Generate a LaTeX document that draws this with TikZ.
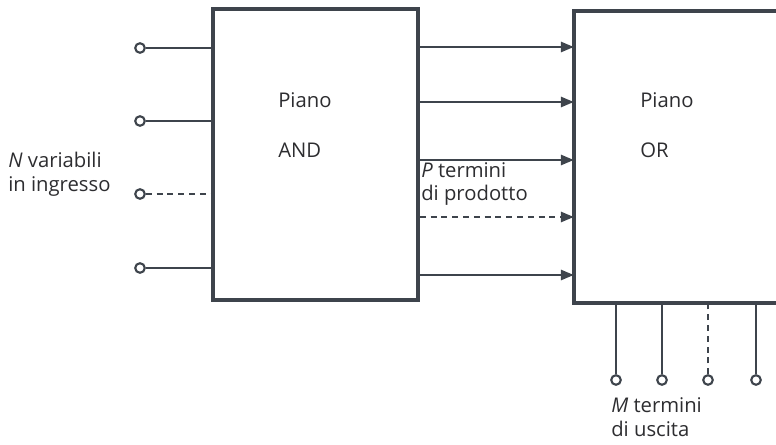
\documentclass[tikz,border=0pt]{standalone}
\usepackage{fontspec}
\setmainfont{Open Sans}
\usetikzlibrary{positioning,calc,arrows.meta}
\definecolor{plaline}{RGB}{62,68,76}
\definecolor{platext}{RGB}{45,45,48}

\begin{document}
\begin{tikzpicture}[
    x=0.025cm, y=-0.025cm,
    every node/.style={font=\fontsize{14.4}{17}\selectfont, text=platext},
    plane/.style={rectangle, draw=plaline, line width=2.6pt, fill=white, minimum width=5.125cm, minimum height=7.275cm, inner sep=0pt},
    pin/.style={circle, draw=plaline, line width=1.5pt, fill=white, minimum size=0.24cm, inner sep=0pt},
    wire/.style={draw=plaline, line width=1.05pt},
    arrow/.style={-{Triangle[length=0.32cm, width=0.26cm]}, plaline, line width=1.05pt},
    dashwire/.style={dash pattern=on 0.15cm off 0.12cm},
    caption/.style={align=left, anchor=west, inner sep=0pt},
]
\useasboundingbox (0,0) rectangle (776,445);

% Planes
\node[plane] (andplane) at (315.5,154.5) {};
\node[rectangle, minimum width=5.05cm, minimum height=7.3cm, inner sep=0pt] (orplane) at (675,157) {};
\draw[plaline, line width=2.6pt] (orplane.north east) -- (orplane.north west) -- (orplane.south west) -- (orplane.south east);

\node[caption] (andtop) at (278,100) {Piano};
\node[caption] (andname) at (278,150) {AND};
\node[caption] (ortop) at (640,100) {Piano};
\node[caption] (orname) at (640,150) {OR};

% Inputs
\node[pin] (in1) at (140,48) {};
\node[pin] (in2) at (140,121) {};
\node[pin] (in3) at (140,194) {};
\node[pin] (in4) at (140,268) {};
\draw[wire] (in1) -- (in1 -| andplane.west);
\draw[wire] (in2) -- (in2 -| andplane.west);
\draw[wire, dashwire] (in3) -- (in3 -| andplane.west);
\draw[wire] (in4) -- (in4 -| andplane.west);
\node[caption] (inlabel) at (8,174) {\textit{N} variabili\\in ingresso};

% Product terms
\coordinate (p1) at (andplane.east |- 0,47);
\coordinate (p2) at (andplane.east |- 0,102);
\coordinate (p3) at (andplane.east |- 0,160);
\coordinate (p4) at (andplane.east |- 0,217);
\coordinate (p5) at (andplane.east |- 0,275);
\draw[arrow] (p1) -- (p1 -| orplane.west);
\draw[arrow] (p2) -- (p2 -| orplane.west);
\draw[arrow] (p3) -- (p3 -| orplane.west);
\draw[arrow, dashwire] (p4) -- (p4 -| orplane.west);
\draw[arrow] (p5) -- (p5 -| orplane.west);
\node[caption] (plabel) at (421,184) {\textit{P} termini\\di prodotto};

% Outputs
\node[pin] (out1) at (616,380) {};
\node[pin] (out2) at (662,380) {};
\node[pin] (out3) at (708,380) {};
\node[pin] (out4) at (756,380) {};
\draw[wire] (out1) -- (out1 |- orplane.south);
\draw[wire] (out2) -- (out2 |- orplane.south);
\draw[wire, dashwire] (out3) -- (out3 |- orplane.south);
\draw[wire] (out4) -- (out4 |- orplane.south);
\node[caption] (mlabel) at (611,417) {\textit{M} termini\\di uscita};

\end{tikzpicture}
\end{document}
